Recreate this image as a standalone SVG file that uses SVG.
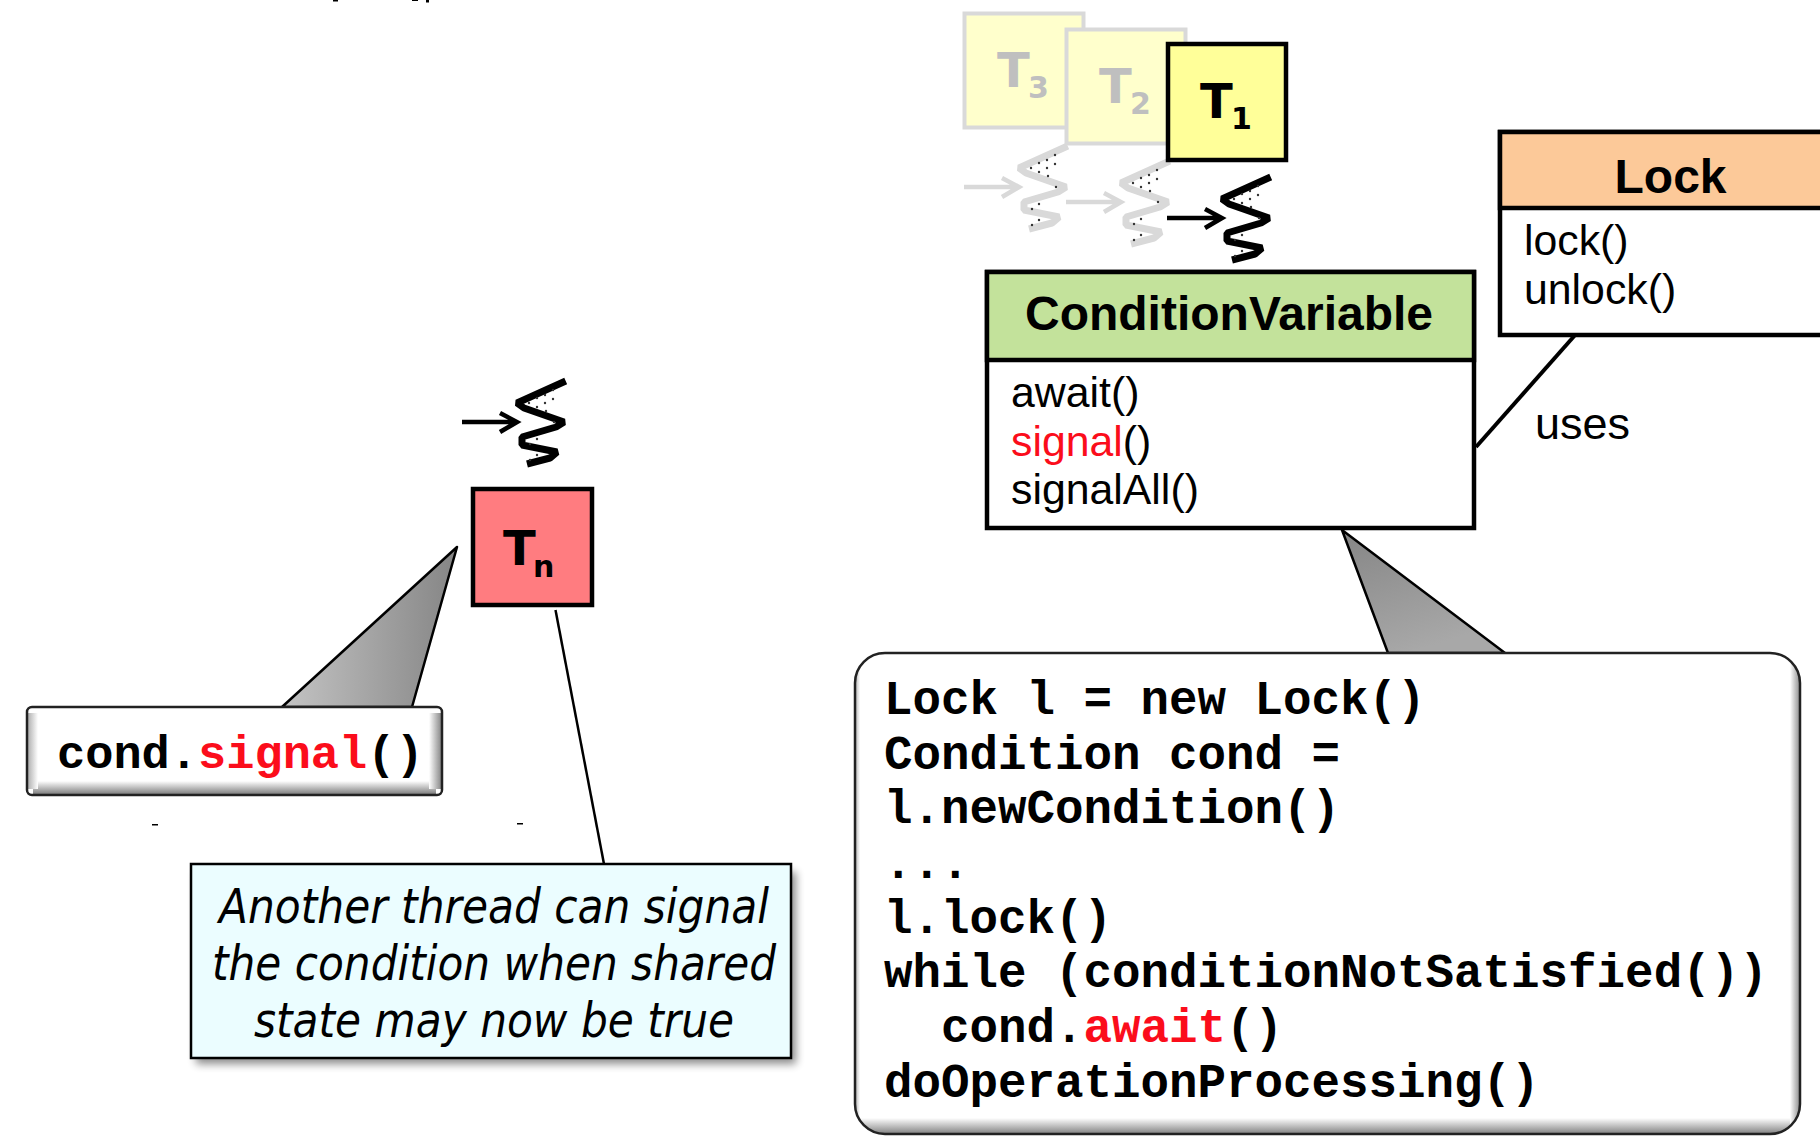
<svg xmlns="http://www.w3.org/2000/svg" xmlns:xlink="http://www.w3.org/1999/xlink" width="1820" height="1148" viewBox="0 0 1820 1148">
<style>
.title{font-family:"Liberation Sans",Arial,sans-serif;font-weight:700;font-size:48px;fill:#000}
.member{font-family:"Liberation Sans",Arial,sans-serif;font-size:42.800px;fill:#000}
.code{font-family:"Liberation Mono","Courier New",monospace;font-weight:700;font-size:47.5px;fill:#000}
.red{fill:#fb0d1b}
.tname{font-family:"DejaVu Sans",Verdana,sans-serif;font-weight:700;font-size:48px}
.tsub{font-family:"DejaVu Sans",Verdana,sans-serif;font-weight:700;font-size:30px}
.note{font-family:"DejaVu Sans",Verdana,sans-serif;font-style:italic;font-size:48px;fill:#000}
.box{stroke:#000;stroke-width:4.500}
.tail{stroke:#000;stroke-width:2.500;stroke-linejoin:round}
.conn{stroke:#000;fill:none}
</style>
<defs>
<linearGradient id="tailL" x1="0" y1="0" x2="1" y2="0"><stop offset="0" stop-color="#c4c4c4"/><stop offset="1" stop-color="#858585"/></linearGradient>
<linearGradient id="tailR" x1="0" y1="0" x2="0.4" y2="1"><stop offset="0" stop-color="#858585"/><stop offset="1" stop-color="#a8a8a8"/></linearGradient>
<linearGradient id="edgeL" x1="0" y1="0" x2="1" y2="0"><stop offset="0" stop-color="#b0b0b0"/><stop offset="1" stop-color="#fff"/></linearGradient>
<linearGradient id="edgeR" x1="1" y1="0" x2="0" y2="0"><stop offset="0" stop-color="#8a8a8a"/><stop offset="1" stop-color="#fff"/></linearGradient>
<linearGradient id="edgeB" x1="0" y1="1" x2="0" y2="0"><stop offset="0" stop-color="#808080"/><stop offset="1" stop-color="#fff"/></linearGradient>
<clipPath id="codeClip"><rect x="855" y="653" width="945" height="481" rx="30"/></clipPath>
<filter id="soft" x="-5%" y="-10%" width="110%" height="125%"><feGaussianBlur stdDeviation="4"/></filter>
<g id="thread">
<path d="M22 62H76M60 53L77 62L60 72" fill="none" stroke="currentColor" stroke-width="4.500"/>
<path d="M125.700 21L77 43L84 48L124 62L116 67L82 77L82 85L117 92L110 98L87 104" fill="none" stroke="currentColor" stroke-width="7" stroke-linejoin="bevel"/>
<g fill="#333"><circle cx="113" cy="30" r="1.200"/><circle cx="105" cy="35" r="1.200"/><circle cx="97" cy="38" r="1.200"/><circle cx="113" cy="39" r="1.200"/><circle cx="105" cy="43" r="1.200"/><circle cx="89" cy="43" r="1.200"/><circle cx="97" cy="47" r="1.200"/><circle cx="106" cy="51" r="1.200"/><circle cx="114" cy="62" r="1.200"/><circle cx="97" cy="79" r="1.200"/><circle cx="90" cy="84" r="1.200"/><circle cx="97" cy="95" r="1.200"/><circle cx="90" cy="100" r="1.200"/></g>
</g>
</defs>
<rect width="1820" height="1148" fill="#fff"/>

<g id="edge-marks" fill="#000">
<rect x="152" y="824" width="6" height="1.500"/>
<rect x="517" y="823" width="6" height="1.500"/>
<rect x="333" y="0" width="5" height="1.500"/>
<rect x="412" y="0" width="6" height="1"/>
<rect x="426" y="0" width="3" height="2.500"/>
</g>

<g id="connectors">
<line class="conn" x1="1576" y1="334" x2="1476" y2="447" stroke-width="4"/>
<line class="conn" x1="555.500" y1="610" x2="604" y2="864" stroke-width="2.500"/>
<polygon class="tail" points="1342,530 1388,653 1505,653" fill="url(#tailR)"/>
<polygon class="tail" points="457,547 282,707 412,707" fill="url(#tailL)"/>
</g>

<g id="T3">
<rect x="964.500" y="13.500" width="119" height="114" fill="#ffffcc" stroke="#d9d9d9" stroke-width="4"/>
<text class="tname" x="997" y="87" fill="#bfbfbf">T</text><text class="tsub" x="1028" y="98" fill="#bfbfbf">3</text>
</g>
<use id="thread-T3" href="#thread" xlink:href="#thread" x="942" y="125" color="#d9d9d9"/>
<g id="T2">
<rect x="1066.500" y="29.500" width="119" height="114" fill="#ffffcc" stroke="#d9d9d9" stroke-width="4"/>
<text class="tname" x="1099" y="103" fill="#bfbfbf">T</text><text class="tsub" x="1130" y="114" fill="#bfbfbf">2</text>
</g>
<use id="thread-T2" href="#thread" xlink:href="#thread" x="1044" y="140" color="#d9d9d9"/>
<g id="T1">
<rect class="box" x="1168" y="44" width="118" height="116" fill="#ffff99"/>
<text class="tname" x="1200" y="118" fill="#000">T</text><text class="tsub" x="1231" y="129" fill="#000">1</text>
</g>
<use id="thread-T1" href="#thread" xlink:href="#thread" x="1145" y="156" color="#000"/>

<g id="ConditionVariable">
<rect class="box" x="987" y="272" width="487" height="256" fill="#fff"/>
<rect class="box" x="987" y="272" width="487" height="88" fill="#c3e29b"/>
<text class="title" x="1229" y="330" text-anchor="middle">ConditionVariable</text>
<text class="member" x="1011" y="407">await()</text>
<text class="member" x="1011" y="456"><tspan class="red">signal</tspan>()</text>
<text class="member" x="1011" y="504">signalAll()</text>
</g>

<g id="Lock">
<rect class="box" x="1500" y="132" width="340" height="203" fill="#fff"/>
<rect class="box" x="1500" y="132" width="340" height="76" fill="#fcc999"/>
<text class="title" x="1670.500" y="193" text-anchor="middle">Lock</text>
<text class="member" x="1524" y="255">lock()</text>
<text class="member" x="1524" y="304">unlock()</text>
</g>

<text id="uses-label" class="member" x="1535" y="439" style="font-size:45px">uses</text>

<g id="code-box">
<rect x="855" y="653" width="945" height="481" rx="30" fill="#fff"/>
<g clip-path="url(#codeClip)">
<rect x="855" y="1118" width="945" height="16" fill="url(#edgeB)"/>
<rect x="1790" y="653" width="10" height="481" fill="url(#edgeR)"/>
<rect x="855" y="653" width="5" height="481" fill="url(#edgeL)"/>
</g>
<rect x="855" y="653" width="945" height="481" rx="30" fill="none" stroke="#222" stroke-width="2.500"/>
<text class="code" x="884" y="714">Lock l = new Lock()</text>
<text class="code" x="884" y="769">Condition cond =</text>
<text class="code" x="884" y="823">l.newCondition()</text>
<text class="code" x="884" y="878">...</text>
<text class="code" x="884" y="933">l.lock()</text>
<text class="code" x="884" y="987">while (conditionNotSatisfied())</text>
<text class="code" x="941" y="1042">cond.<tspan class="red">await</tspan>()</text>
<text class="code" x="884" y="1097">doOperationProcessing()</text>
</g>

<g id="Tn">
<rect class="box" x="473" y="489" width="119" height="116" fill="#ff7c80"/>
<text class="tname" x="503" y="565" fill="#000">T</text><text class="tsub" x="533" y="577" fill="#000">n</text>
</g>
<use id="thread-Tn" href="#thread" xlink:href="#thread" x="440" y="360" color="#000"/>

<g id="signal-box">
<rect x="27" y="707" width="415" height="88" rx="5" fill="#fff"/>
<rect x="33" y="781" width="403" height="13" fill="url(#edgeB)"/>
<rect x="429" y="713" width="12" height="76" fill="url(#edgeR)"/>
<rect x="28" y="713" width="10" height="76" fill="url(#edgeL)"/>
<rect x="27" y="707" width="415" height="88" rx="5" fill="none" stroke="#222" stroke-width="2.500"/>
<text class="code" x="57" y="768" style="font-size:47px">cond.<tspan class="red">signal</tspan>()</text>
</g>

<g id="note">
<rect x="196" y="872" width="600" height="192" fill="#000" opacity="0.45" filter="url(#soft)"/>
<rect x="191" y="864" width="600" height="194" fill="#ebfdff" stroke="#000" stroke-width="2.500"/>
<text class="note" x="219" y="923" textLength="550" lengthAdjust="spacingAndGlyphs">Another thread can signal</text>
<text class="note" x="212" y="980" textLength="564" lengthAdjust="spacingAndGlyphs">the condition when shared</text>
<text class="note" x="254" y="1037" textLength="480" lengthAdjust="spacingAndGlyphs">state may now be true</text>
</g>
</svg>
